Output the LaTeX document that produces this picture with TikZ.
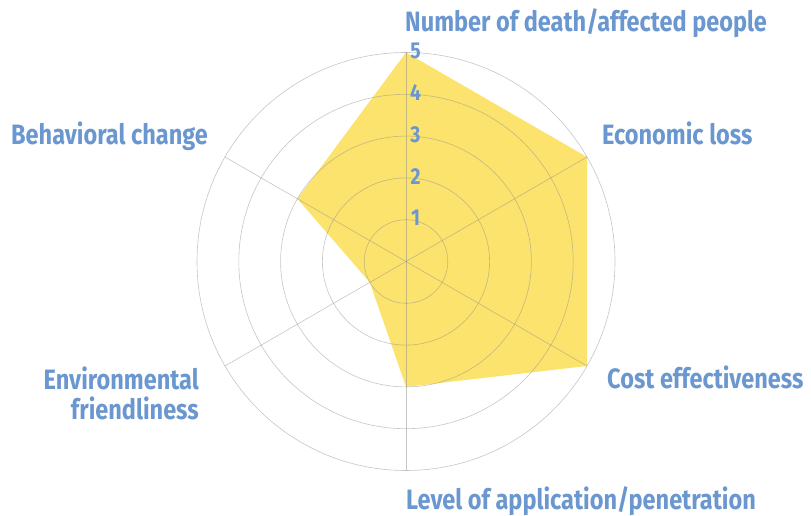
\documentclass[tikz,border=0pt]{standalone}
\usepackage{fontspec}
\setmainfont[FakeStretch=0.84]{Fira Sans}
\usetikzlibrary{positioning}

\definecolor{labelblue}{RGB}{106,151,208}
\definecolor{radaryellow}{RGB}{252,227,110}
\definecolor{gridgray}{RGB}{140,140,140}

\begin{document}
\begin{tikzpicture}[
			x=1pt, y=1pt,
			every node/.style={font=\bfseries\fontsize{28}{30}\selectfont, text=labelblue, inner sep=0pt},
			axislabel/.style={anchor=base west},
			score/.style={font=\bfseries\fontsize{23}{23}\selectfont, anchor=center},
			ring/.style={draw=gridgray, draw opacity=0.5, line width=0.6pt},
			spoke/.style={draw=gridgray, draw opacity=0.5, line width=0.6pt},
			area/.style={fill=radaryellow}
		]
		\useasboundingbox (0,0) rectangle (811,516);
		\coordinate (centre) at (406,254.5);

		\begin{scope}[shift={(centre)}]
			% Data polygon
			\foreach \a/\v [count=\i] in {90/5,30/5,-30/5,-90/3,-150/1,150/3}
				\coordinate (p\i) at (\a:\v*41.8);
			\fill[area] (p1) -- (p2) -- (p3) -- (p4) -- (p5) -- (p6) -- cycle;

			% Grid
			\foreach \r in {1,...,5}
				\draw[ring] (0,0) circle (\r*41.8);
			\foreach \a in {90,30,-30,-90,-150,150}
				\draw[spoke] (0,0) -- (\a:209);

			% Scale
			\foreach \r in {1,...,5}
				\node[score] (s\r) at (9.5,\r*41.8+1.5) {\r};
		\end{scope}

		% Axis labels
		\node[axislabel] (deaths) at (405,484) {Number of death/affected people};
		\node[axislabel] (loss) at (602,371) {Economic loss};
		\node[axislabel] (cost) at (607,127) {Cost effectiveness};
		\node[axislabel] (level) at (406,6) {Level of application/penetration};
		\node[anchor=base east, align=right] (env) at (199,96) {Environmental\\friendliness};
		\node[axislabel] (behaviour) at (11,371) {Behavioral change};

	\end{tikzpicture}
\end{document}
